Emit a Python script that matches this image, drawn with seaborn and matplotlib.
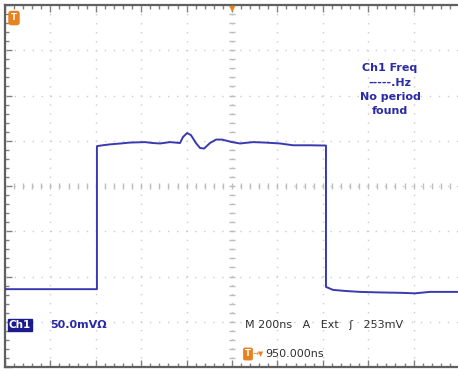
import numpy as np
import pandas as pd
import matplotlib
matplotlib.use("Agg")
import matplotlib.pyplot as plt
import seaborn as sns

# Waveform (time in ns, voltage in mV; 200 ns/div, 50 mV/div)
time_ns = [0, 405, 405, 430, 463, 510, 551, 617, 650, 683, 727, 771, 784, 802, 819,
           841, 859, 877, 903, 930, 956, 1000, 1035, 1093, 1145, 1211, 1269, 1344,
           1414, 1414, 1445, 1500, 1564, 1650, 1740, 1806, 1872, 1996]
volt_mv = [-114, -114, 44, 45, 46, 47, 48, 48.5, 47.5, 47, 48.5, 47.5, 54.1, 58.5, 56.3,
           47.5, 42, 41.4, 47.5, 51.3, 51.3, 48.5, 47, 48.5, 48, 47, 45, 45,
           44.7, -111.5, -114.8, -116, -117, -117.6, -118, -118.6, -117, -117]

freq_lines = ["Ch1 Freq", "-----.Hz", "No period", "found"]
ch_label = "Ch1"
scale_label = "50.0mV\u03a9"
timebase_label = "M 200ns   A   Ext   \u0283   253mV"
delay_label = "950.000ns"

df = pd.DataFrame({"t": time_ns, "v": volt_mv})

sns.set_theme(style="white")
plt.rcParams["font.family"] = ["DejaVu Sans"]

fig = plt.figure(figsize=(4.58, 3.71), dpi=100)
fig.patch.set_facecolor("white")
ax = fig.add_axes([5 / 458, 4 / 371, 454 / 458, 362 / 371])
ax.set_facecolor("white")

xdiv, ydiv = 200, 50
ax.set_xlim(0, 2000)
ax.set_ylim(-200, 200)

# dotted graticule
gcol = "#cccccc"
for xv in np.arange(200, 2000, xdiv):
    ax.axvline(xv, color=gcol, lw=1.0, ls=(0, (1, 5.5)), zorder=1)
for yv in np.arange(-150, 200, ydiv):
    ax.axhline(yv, color=gcol, lw=1.0, ls=(0, (1, 5.5)), zorder=1)

# center-line minor ticks
minor_x = np.arange(0, 2000, xdiv / 5)
minor_y = np.arange(-200, 200, ydiv / 5)
ax.plot(minor_x, np.zeros_like(minor_x), ls="none", marker="|", ms=5, mew=1.0,
        color="#bdbdbd", zorder=1)
ax.plot(np.full_like(minor_y, 1000.0), minor_y, ls="none", marker="_", ms=5, mew=1.0,
        color="#bdbdbd", zorder=1)

# waveform
sns.lineplot(data=df, x="t", y="v", ax=ax, sort=False, estimator=None,
             color="#3a3ab0", lw=1.4, zorder=3)

# frame
for side in ["left", "top", "bottom"]:
    ax.spines[side].set_visible(True)
    ax.spines[side].set_color("#606060")
    ax.spines[side].set_linewidth(1.6)
ax.spines["right"].set_visible(False)
ax.set_xticks(np.arange(0, 2001, xdiv))
ax.set_xticks(minor_x, minor=True)
ax.set_yticks(np.arange(-200, 201, ydiv))
ax.set_yticks(minor_y, minor=True)
ax.tick_params(which="both", direction="in", top=True, bottom=True, left=True,
               right=False, labelbottom=False, labelleft=False, color="#808080")
ax.tick_params(which="major", length=5, width=1.0)
ax.tick_params(which="minor", length=3, width=1.0)
ax.set_xlabel("")
ax.set_ylabel("")

navy = "#2b2ba6"
# frequency readout
for i, s in enumerate(freq_lines):
    fig.text(390 / 458, 1 - (68 + i * 14.5) / 371, s, ha="center", va="center",
             color=navy, fontsize=8, fontweight="bold")

# channel box
fig.text(20 / 458, 1 - 325 / 371, ch_label, ha="center", va="center", color="white",
         fontsize=7.5, fontweight="bold",
         bbox=dict(boxstyle="square,pad=0.12", fc="#1c1c8c", ec="#1c1c8c"))
fig.text(50 / 458, 1 - 325 / 371, scale_label, ha="left", va="center", color=navy,
         fontsize=8, fontweight="bold")
fig.text(245 / 458, 1 - 325 / 371, timebase_label, ha="left", va="center",
         color="#303030", fontsize=8)
fig.text(265 / 458, 1 - 354 / 371, delay_label, ha="left", va="center",
         color="#303030", fontsize=8)

# orange markers
orange = "#e8821e"
fig.text(248 / 458, 1 - 354 / 371, "T", ha="center", va="center", color="white",
         fontsize=6, fontweight="bold",
         bbox=dict(boxstyle="round,pad=0.15", fc=orange, ec=orange))
fig.text(258 / 458, 1 - 354 / 371, "\u2192\u25bc", ha="center", va="center",
         color=orange, fontsize=5)
fig.text(14 / 458, 1 - 18 / 371, "T", ha="center", va="center", color="white",
         fontsize=6, fontweight="bold",
         bbox=dict(boxstyle="round,pad=0.25", fc=orange, ec=orange))
fig.text(232 / 458, 1 - 9 / 371, "\u25bc", ha="center", va="center", color=orange,
         fontsize=6)

fig.savefig("out.png", dpi=100, facecolor="white")
